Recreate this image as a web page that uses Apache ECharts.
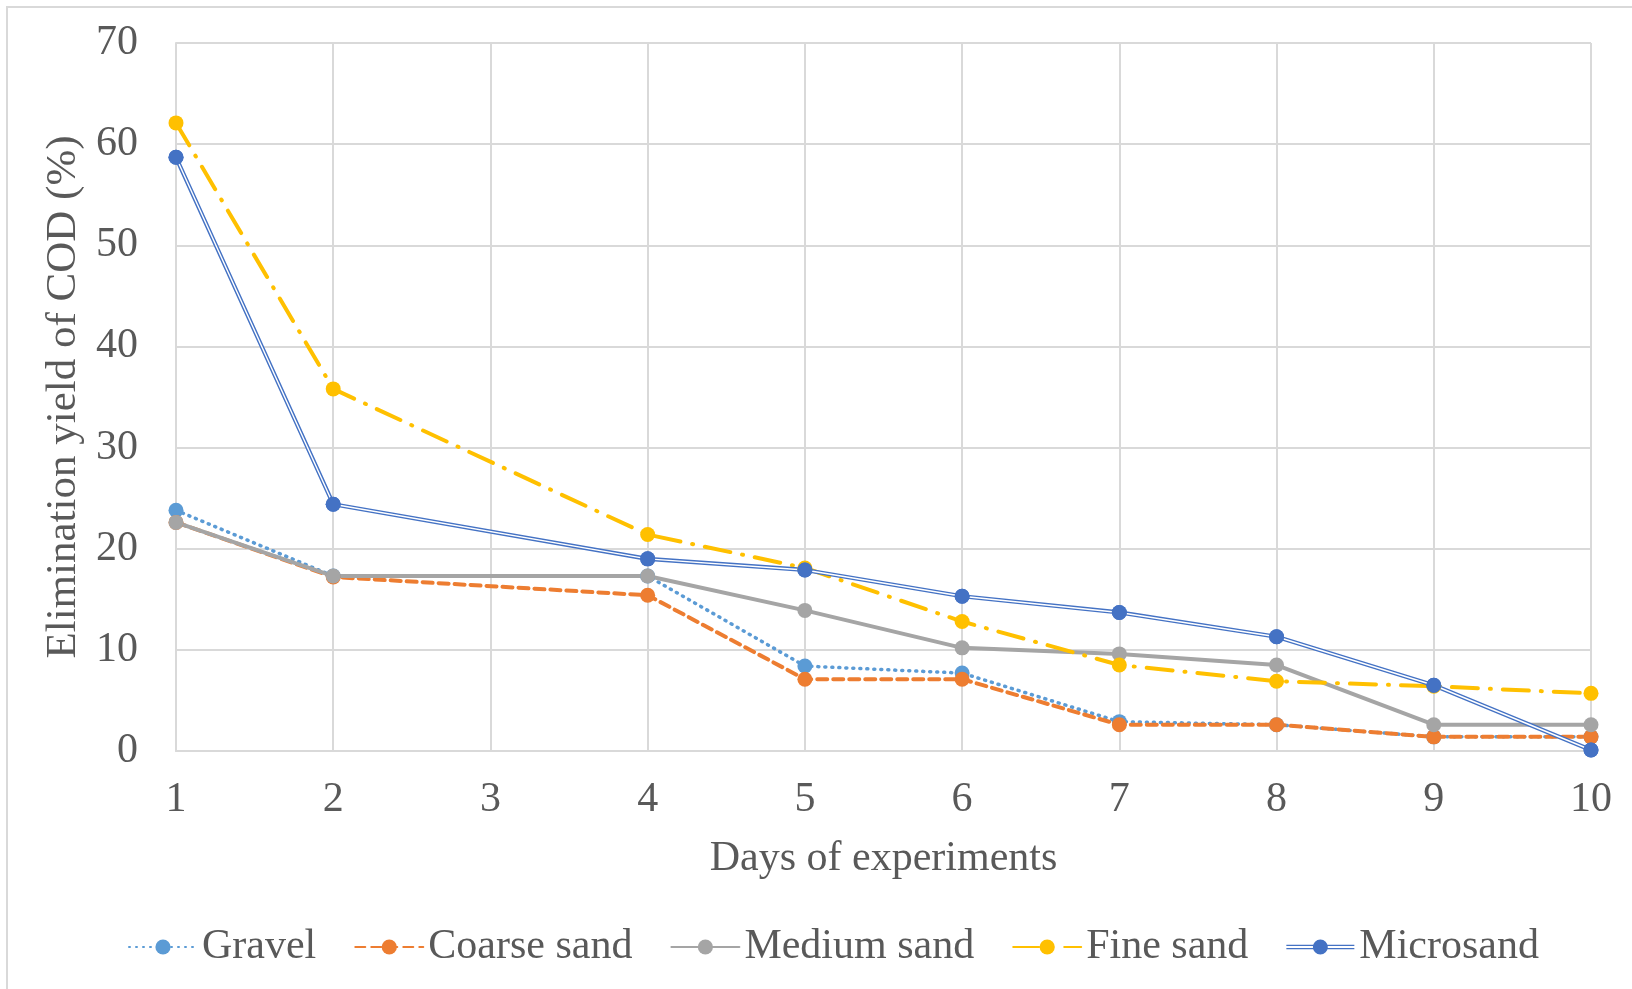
<!DOCTYPE html>
<html>
<head>
<meta charset="utf-8">
<title>COD elimination</title>
<script src="https://cdn.jsdelivr.net/npm/echarts@6/dist/echarts.min.js"></script>
<style>
  html, body { margin: 0; padding: 0; background: #fff; }
  #frame { position: absolute; left: 6px; top: 6px; width: 1640px; height: 1000px;
           border-left: 2px solid #d9d9d9; border-top: 2px solid #d9d9d9; }
  #chart { position: absolute; left: 0; top: 0; width: 1632px; height: 989px; }
</style>
</head>
<body>
<div id="frame"></div>
<div id="chart"></div>
<script>
// days of experiments (day 3 has no measurement)
var days = ['1', '2', '3', '4', '5', '6', '7', '8', '9', '10'];

var gravel     = [23.8, 17.3, null, 17.3, 8.4, 7.7, 2.9, 2.6, 1.4, 1.4];
var coarseSand = [22.6, 17.2, null, 15.4, 7.1, 7.1, 2.6, 2.6, 1.4, 1.4];
var mediumSand = [22.6, 17.3, null, 17.3, 13.9, 10.2, 9.6, 8.5, 2.6, 2.6];
var fineSand   = [62.1, 35.8, null, 21.4, 18.1, 12.8, 8.5, 6.9, 6.4, 5.7];
var microsand  = [58.7, 24.4, null, 19.0, 17.9, 15.3, 13.7, 11.3, 6.5, 0.1];

var yTicks = { min: 0, max: 70, step: 10 };

var font = "'Liberation Serif', 'Times New Roman', serif";
var grey = '#595959';

var myChart = echarts.init(document.getElementById('chart'));

function lineSeries(name, data, color, type, width) {
    return {
        name: name,
        type: 'line',
        data: data,
        connectNulls: true,
        symbol: 'circle',
        symbolSize: 15,
        itemStyle: { color: color },
        lineStyle: { color: color, width: width, type: type, cap: 'round' },
        emphasis: { disabled: true }
    };
}

myChart.setOption({
    animation: false,
    backgroundColor: 'transparent',
    textStyle: { fontFamily: font },
    legend: {
        data: ['Gravel', 'Coarse sand', 'Medium sand', 'Fine sand',
            { name: 'Microsand',
              icon: 'path://M0,5.2L68,5.2L68,6.6L0,6.6Z M0,8.4L68,8.4L68,9.8L0,9.8Z M26.5,7.5A7.5,7.5 0 1 1 41.5,7.5A7.5,7.5 0 1 1 26.5,7.5Z' }],
        bottom: 16,
        left: 123,
        itemWidth: 68,
        itemHeight: 19,
        itemGap: 38,
        textStyle: { fontFamily: font, fontSize: 42, color: grey }
    },
    grid: { left: 176, right: 41, top: 43, bottom: 238 },
    xAxis: {
        type: 'category',
        data: days,
        boundaryGap: false,
        name: 'Days of experiments',
        nameLocation: 'middle',
        nameGap: 87,
        nameTextStyle: { fontFamily: font, fontSize: 42, color: grey },
        axisLine: { lineStyle: { color: '#d9d9d9', width: 2 } },
        axisTick: { show: false },
        axisLabel: { fontFamily: font, fontSize: 42, color: grey, margin: 28 },
        splitLine: { show: true, lineStyle: { color: '#d9d9d9', width: 2 } }
    },
    yAxis: {
        type: 'value',
        min: yTicks.min,
        max: yTicks.max,
        interval: yTicks.step,
        name: 'Elimination yield of COD (%)',
        nameLocation: 'middle',
        nameGap: 84,
        nameTextStyle: { fontFamily: font, fontSize: 43, color: grey },
        axisLine: { show: true, lineStyle: { color: '#d9d9d9', width: 2 } },
        axisTick: { show: false },
        axisLabel: { fontFamily: font, fontSize: 42, color: grey, margin: 38 },
        splitLine: { show: true, lineStyle: { color: '#d9d9d9', width: 2 } }
    },
    series: [
        lineSeries('Gravel', gravel, '#5b9bd5', [1, 6], 3.5),
        lineSeries('Coarse sand', coarseSand, '#ed7d31', [10, 6], 4),
        lineSeries('Medium sand', mediumSand, '#a5a5a5', 'solid', 4),
        lineSeries('Fine sand', fineSand, '#ffc000', [26, 12, 1, 12], 4),
        // microsand: drawn as a double line (blue, white core, then markers on top)
        {
            name: 'Microsand', type: 'line', data: microsand, connectNulls: true,
            symbol: 'circle', symbolSize: 15,
            itemStyle: { color: '#4472c4' },
            lineStyle: { color: '#4472c4', width: 4.2 },
            emphasis: { disabled: true }
        },
        {
            name: 'micro-core', type: 'line', data: microsand, connectNulls: true,
            showSymbol: false, silent: true,
            lineStyle: { color: '#ffffff', width: 1.4 },
            emphasis: { disabled: true }
        },
        {
            name: 'micro-dots', type: 'line', data: microsand, connectNulls: true,
            symbol: 'circle', symbolSize: 15, silent: true,
            itemStyle: { color: '#4472c4' },
            lineStyle: { opacity: 0 },
            emphasis: { disabled: true }
        }
    ]
});
</script>
</body>
</html>
